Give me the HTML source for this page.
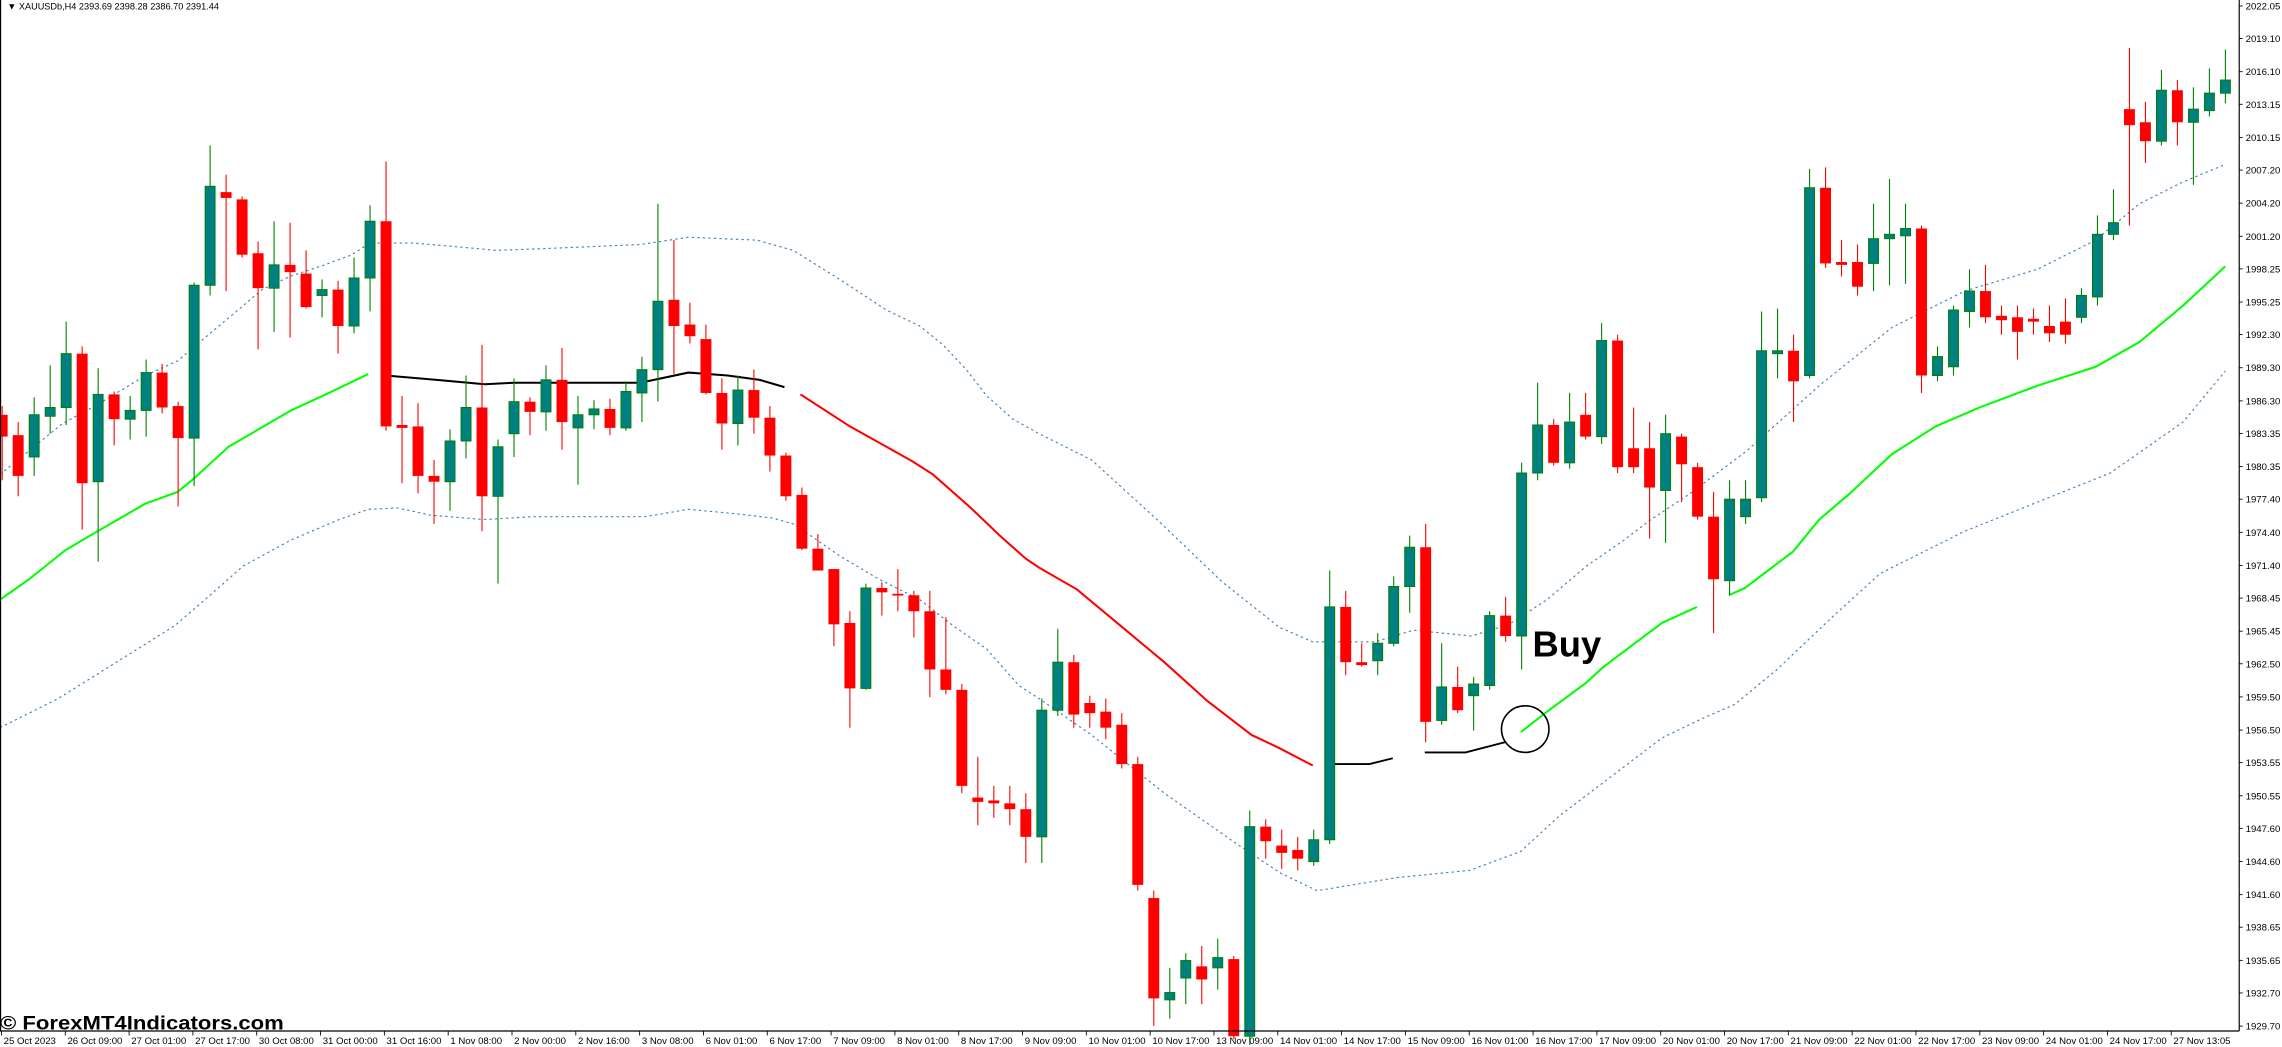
<!DOCTYPE html>
<html><head><meta charset="utf-8">
<style>
html,body{margin:0;padding:0;background:#fff;overflow:hidden}
svg{display:block}
text{font-family:"Liberation Sans",sans-serif}
</style></head>
<body>
<svg id="c" width="2282" height="1047" viewBox="0 0 1568 719.4" xmlns="http://www.w3.org/2000/svg">
<rect x="0" y="0" width="1568" height="719.4" fill="#fff"/>
<g id="bands"></g>
<g id="lines"></g>
<g id="candles"></g>
<g id="axis"></g>
<text x="1053" y="451" font-size="25" font-weight="bold" fill="#000">Buy</text>
<ellipse cx="1048" cy="501" rx="16.3" ry="16" fill="none" stroke="#000" stroke-width="1.1"/>
<text x="5" y="6.5" font-size="6.3" fill="#000">▼ XAUUSDb,H4  2393.69 2398.28 2386.70 2391.44</text>
<text x="0" y="707.5" font-size="13.5" font-weight="bold" fill="#000" textLength="195" lengthAdjust="spacingAndGlyphs">© ForexMT4Indicators.com</text>
</svg>
<script>
var NS="http://www.w3.org/2000/svg";
function el(p,t,a){var e=document.createElementNS(NS,t);for(var k in a)e.setAttribute(k,a[k]);p.appendChild(e);return e;}
var D=[
[0,'d',285,300,279,330],[1,'d',299,327,290,341],[2,'u',285,314,273,327],[3,'u',280,286,251,298],[4,'u',243,280,221,292],
[5,'d',243,332,238,364],[6,'u',271,331,253,386],[7,'d',271,288,269,306],[8,'u',282,288,272,302],[9,'u',256,282,247,300],
[10,'d',256,280,250,284],[11,'d',279,301,276,348],[12,'u',196,301,194,334],[13,'u',128,196,100,203],[14,'d',132,136,120,200],
[15,'d',137,175,135,177],[16,'d',174,198,166,240],[17,'u',182,198,152,228],[18,'d',182,187,153,232],[19,'d',188,211,172,212],
[20,'u',199,203,192,218],[21,'d',199,224,193,243],[22,'u',191,224,177,229],[23,'u',152,191,141,214],[24,'d',152,293,111,296],
[25,'d',292,294,272,332],[26,'d',293,327,277,339],[27,'d',327,331,316,360],[28,'u',303,331,295,351],[29,'u',280,303,258,315],
[30,'d',280,341,237,365],[31,'u',307,341,302,401],[32,'u',276,298,260,314],[33,'d',276,283,273,299],[34,'u',261,283,251,296],
[35,'d',261,290,239,309],[36,'u',285,294,272,333],[37,'u',281,285,275,295],[38,'d',281,294,274,299],[39,'u',269,294,262,296],
[40,'u',254,270,245,290],[41,'u',207,254,140,276],[42,'d',206,224,165,257],[43,'d',223,231,208,236],[44,'d',233,270,223,271],
[45,'d',270,291,260,309],[46,'u',268,291,258,306],[47,'d',268,287,254,298],[48,'d',287,313,279,324],[49,'d',313,341,311,344],
[50,'d',340,377,335,378],[51,'d',377,392,367,392],[52,'d',391,429,391,444],[53,'d',428,473,420,500],[54,'u',404,473,401,474],
[55,'d',404,407,400,423],[56,'d',408,409,391,420],[57,'d',409,420,406,438],[58,'d',420,460,406,479],[59,'d',460,474,424,477],
[60,'d',474,540,470,545],[61,'d',548,551,520,567],[62,'d',550,552,540,562],[63,'d',552,556,540,567],[64,'d',556,575,545,593],
[65,'u',488,575,480,593],[66,'u',455,488,432,492],[67,'d',455,491,450,500],[68,'d',483,490,478,500],[69,'d',489,500,480,508],
[70,'d',498,525,490,528],[71,'d',525,608,520,612],[72,'d',617,686,612,705],[73,'u',682,687,665,700],[74,'u',660,672,655,690],
[75,'d',664,673,650,690],[76,'u',658,665,645,680],[77,'d',659,712,657,714],[78,'u',568,712,557,718],[79,'d',568,578,563,590],
[80,'d',581,586,570,597],[81,'d',584,590,575,598],[82,'u',577,592,570,595],[83,'u',417,577,392,580],[84,'d',417,455,406,464],
[85,'d',455,457,442,458],[86,'u',442,454,435,464],[87,'u',403,442,396,444],[88,'u',376,403,368,421],[89,'d',376,496,360,510],
[90,'u',472,495,442,498],[91,'d',472,488,458,490],[92,'u',470,478,465,502],[93,'u',423,471,420,474],[94,'d',423,437,410,441],
[95,'u',325,437,318,460],[96,'u',292,325,263,330],[97,'d',292,318,288,320],[98,'u',290,318,270,322],[99,'d',285,300,270,302],
[100,'u',234,300,222,305],[101,'d',234,321,230,325],[102,'d',308,321,280,325],[103,'d',308,335,290,370],[104,'u',298,337,285,373],
[105,'d',300,319,298,345],[106,'d',321,355,318,357],[107,'d',355,398,338,435],[108,'u',343,399,330,409],[109,'u',343,355,330,360],
[110,'u',241,342,214,345],[111,'u',241,243,212,260],[112,'d',241,262,230,290],[113,'u',129,258,116,260],[114,'d',129,181,115,184],
[115,'d',180,182,165,190],[116,'d',180,197,168,203],[117,'u',164,181,140,200],[118,'u',161,164,123,196],[119,'u',157,162,140,195],
[120,'d',157,258,155,270],[121,'u',245,258,238,262],[122,'u',213,252,210,258],[123,'u',200,214,185,225],[124,'d',200,218,182,222],
[125,'d',217,220,210,230],[126,'d',218,228,210,247],[127,'d',219,221,212,230],[128,'d',224,229,210,235],[129,'d',221,230,205,236],
[130,'u',203,218,198,222],[131,'u',161,204,148,210],[132,'u',153,161,130,165],[133,'d',75,86,33,155],[134,'d',84,97,70,112],
[135,'u',62,97,48,100],[136,'d',62,84,55,100],[137,'u',75,84,60,127],[138,'u',64,76,47,80],[139,'u',55,64,34,71]
];
var cg=document.getElementById('candles');
D.forEach(function(c){
  var x=1.5+10.99*c[0];var up=c[1]=='u';
  var wc=up?'#008000':'#FF0000';
  el(cg,'line',{x1:x,x2:x,y1:c[4],y2:c[5],stroke:wc,'stroke-width':0.75});
  var h=Math.max(c[3]-c[2],1.2);
  if(up) el(cg,'rect',{x:x-3.4,y:c[2],width:6.8,height:h,fill:'#008080',stroke:'#008000','stroke-width':0.7});
  else el(cg,'rect',{x:x-3.75,y:c[2],width:7.5,height:h,fill:'#FF0000'});
});
function pl(g,pts,a){a.points=pts.map(function(p){return p.join(',')}).join(' ');a.fill='none';el(g,'polyline',a);}
var bg=document.getElementById('bands');
var up=[[0,326],[43,291],[67,278],[100,258],[122,248],[142,231],[166,211],[180,199],[199,190],[223,182],[242,175],[254,167],[284,167],[308,169],[341,172],[370,171],[440,168],[473,163],[520,165],[545,172],[577,192],[609,213],[632,224],[648,237],[664,254],[678,272],[696,288],[714,298],[750,316],[795,357],[840,400],[879,431],[902,441],[945,441],[971,433],[1011,437],[1037,429],[1063,412],[1090,389],[1116,371],[1133,358],[1160,340],[1200,310],[1250,265],[1300,225],[1350,200],[1400,185],[1440,165],[1470,140],[1500,125],[1529,113]];
var lo=[[0,500],[40,480],[80,455],[120,430],[142,411],[167,389],[200,371],[233,357],[253,350],[273,349],[296,354],[333,357],[366,355],[443,355],[473,350],[506,353],[531,356],[545,360],[554,366],[577,382],[604,398],[632,412],[655,430],[678,446],[700,471],[714,480],[750,505],[800,545],[850,580],[880,600],[905,612],[960,603],[1010,598],[1045,585],[1071,561],[1142,507],[1169,494],[1192,484],[1221,460],[1260,423],[1292,394],[1350,365],[1400,345],[1450,325],[1500,290],[1529,255]];
pl(bg,up,{stroke:'#4682B4','stroke-width':0.8,'stroke-dasharray':'1.6 2.2'});
pl(bg,lo,{stroke:'#4682B4','stroke-width':0.8,'stroke-dasharray':'1.6 2.2'});
var lg=document.getElementById('lines');
var G='#00FF00';
pl(lg,[[0,412],[20,398],[45,378],[67,365],[100,346],[122,338],[133,329],[157,307],[200,282],[226,270],[253,257]],{stroke:G,'stroke-width':1.4});
pl(lg,[[1045,503],[1063,489],[1090,469],[1102,458],[1142,428],[1166,417]],{stroke:G,'stroke-width':1.4});
pl(lg,[[1188,409],[1199,404],[1232,379],[1250,357],[1270,340],[1300,312],[1330,293],[1360,280],[1400,265],[1440,252],[1470,235],[1500,210],[1529,183]],{stroke:G,'stroke-width':1.4});
pl(lg,[[265,258],[300,261],[333,264],[353,263],[440,263],[473,256],[500,258],[522,261],[539,266]],{stroke:'#000','stroke-width':1.4});
pl(lg,[[550,271],[584,293],[602,303],[627,317],[641,326],[666,348],[687,368],[705,384],[714,390],[740,405],[770,430],[800,455],[830,482],[860,505],[879,514],[902,526]],{stroke:'#FF0000','stroke-width':1.4});
pl(lg,[[913,525],[941,525],[957,521]],{stroke:'#000','stroke-width':1.3});
pl(lg,[[979,517],[1007,517],[1034,510]],{stroke:'#000','stroke-width':1.3});
var ag=document.getElementById('axis');
el(ag,'line',{x1:1538.6,x2:1538.6,y1:0,y2:708.4,stroke:'#000','stroke-width':0.8});
el(ag,'line',{x1:0,x2:1538.6,y1:708.4,y2:708.4,stroke:'#000','stroke-width':0.8});
el(ag,'line',{x1:0.4,x2:0.4,y1:0,y2:708.4,stroke:'#000','stroke-width':0.8});
var P=['2022.05','2019.10','2016.10','2013.15','2010.15','2007.20','2004.20','2001.20','1998.25','1995.25','1992.30','1989.30','1986.30','1983.35','1980.35','1977.40','1974.40','1971.40','1968.45','1965.45','1962.50','1959.50','1956.50','1953.55','1950.55','1947.60','1944.60','1941.60','1938.65','1935.65','1932.70','1929.70'];
P.forEach(function(p){var y=4.1+(2022.05-parseFloat(p))*7.59;
  el(ag,'line',{x1:1538.6,x2:1541,y1:y,y2:y,stroke:'#000','stroke-width':0.6});
  var t=el(ag,'text',{x:1543,y:y+2.4,'font-size':6.6,fill:'#000'});t.textContent=p;});
var T=['25 Oct 2023','26 Oct 09:00','27 Oct 01:00','27 Oct 17:00','30 Oct 08:00','31 Oct 00:00','31 Oct 16:00','1 Nov 08:00','2 Nov 00:00','2 Nov 16:00','3 Nov 08:00','6 Nov 01:00','6 Nov 17:00','7 Nov 09:00','8 Nov 01:00','8 Nov 17:00','9 Nov 09:00','10 Nov 01:00','10 Nov 17:00','13 Nov 09:00','14 Nov 01:00','14 Nov 17:00','15 Nov 09:00','16 Nov 01:00','16 Nov 17:00','17 Nov 09:00','20 Nov 01:00','20 Nov 17:00','21 Nov 09:00','22 Nov 01:00','22 Nov 17:00','23 Nov 09:00','24 Nov 01:00','24 Nov 17:00','27 Nov 13:05'];
T.forEach(function(s,i){var x=1+43.85*i;
  el(ag,'line',{x1:x,x2:x,y1:708.4,y2:711.5,stroke:'#000','stroke-width':0.6});
  var t=el(ag,'text',{x:x+1.5,y:717.5,'font-size':6.6,fill:'#000'});t.textContent=s;});
</script>
</body></html>
